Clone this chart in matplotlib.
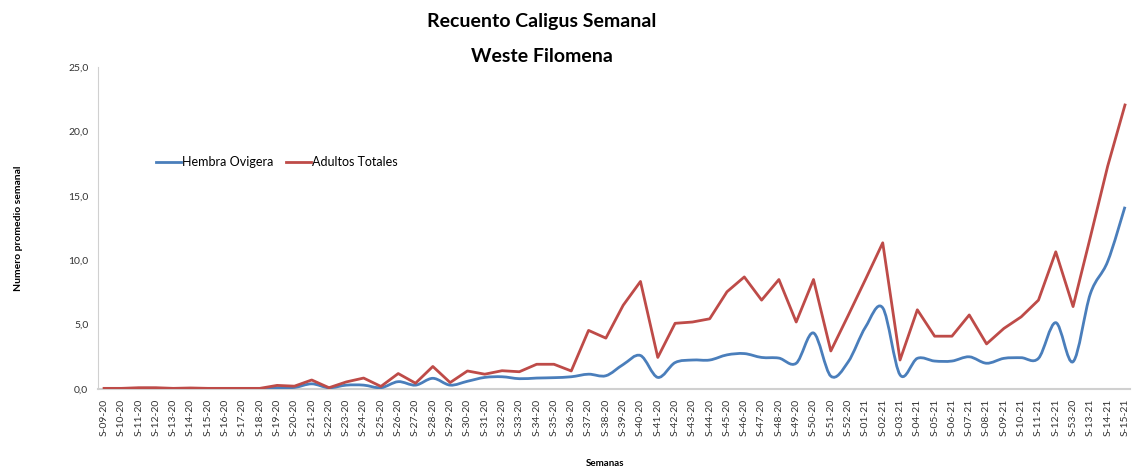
import numpy as np
import matplotlib.pyplot as plt
from matplotlib.path import Path
from matplotlib.patches import PathPatch
from matplotlib.lines import Line2D

plt.rcParams['font.family'] = ['Lato', 'DejaVu Sans']

semanas = ["S-09-20", "S-10-20", "S-11-20", "S-12-20", "S-13-20", "S-14-20", "S-15-20",
           "S-16-20", "S-17-20", "S-18-20", "S-19-20", "S-20-20", "S-21-20", "S-22-20",
           "S-23-20", "S-24-20", "S-25-20", "S-26-20", "S-27-20", "S-28-20", "S-29-20",
           "S-30-20", "S-31-20", "S-32-20", "S-33-20", "S-34-20", "S-35-20", "S-36-20",
           "S-37-20", "S-38-20", "S-39-20", "S-40-20", "S-41-20", "S-42-20", "S-43-20",
           "S-44-20", "S-45-20", "S-46-20", "S-47-20", "S-48-20", "S-49-20", "S-50-20",
           "S-51-20", "S-52-20", "S-01-21", "S-02-21", "S-03-21", "S-04-21", "S-05-21",
           "S-06-21", "S-07-21", "S-08-21", "S-09-21", "S-10-21", "S-11-21", "S-12-21",
           "S-53-20", "S-13-21", "S-14-21", "S-15-21"]

hembra_ovigera = [0.02, 0.02, 0.05, 0.05, 0.02, 0.03, 0.02, 0.02, 0.02, 0.02,
                  0.1, 0.12, 0.4, 0.1, 0.3, 0.3, 0.1, 0.57, 0.3, 0.83,
                  0.3, 0.6, 0.9, 0.95, 0.8, 0.85, 0.88, 0.95, 1.15, 1.03,
                  1.9, 2.6, 0.9, 2.05, 2.25, 2.25, 2.65, 2.75, 2.45, 2.4,
                  2.0, 4.35, 1.0, 2.1, 4.8, 6.3, 1.1, 2.38, 2.17, 2.17,
                  2.5, 2.0, 2.38, 2.43, 2.38, 5.15, 2.12, 7.4, 9.9, 14.15]

adultos_totales = [0.05, 0.05, 0.1, 0.1, 0.05, 0.08, 0.05, 0.05, 0.05, 0.05,
                   0.28, 0.22, 0.7, 0.1, 0.55, 0.85, 0.2, 1.2, 0.45, 1.75,
                   0.5, 1.4, 1.15, 1.42, 1.34, 1.92, 1.92, 1.4, 4.55, 3.95,
                   6.5, 8.35, 2.45, 5.1, 5.2, 5.45, 7.55, 8.7, 6.9, 8.5,
                   5.2, 8.5, 2.95, 5.7, 8.5, 11.35, 2.25, 6.15, 4.1, 4.1,
                   5.75, 3.5, 4.7, 5.6, 6.9, 10.65, 6.4, 11.8, 17.3, 22.05]

y_ticks = [0, 5, 10, 15, 20, 25]

azul = '#4a7ebb'
rojo = '#be4b48'


def curva_suave(xs, ys):
    # linea suavizada tipo Excel (Catmull-Rom -> Bezier)
    p = np.column_stack([xs, ys])
    verts = [p[0]]
    codes = [Path.MOVETO]
    n = len(p)
    for k in range(n - 1):
        p0 = p[k - 1] if k > 0 else p[k]
        p1 = p[k]
        p2 = p[k + 1]
        p3 = p[k + 2] if k + 2 < n else p[k + 1]
        verts += [p1 + (p2 - p0) / 6, p2 - (p3 - p1) / 6, p2]
        codes += [Path.CURVE4] * 3
    return Path(verts, codes)


fig = plt.figure(figsize=(11.33, 4.72), dpi=100)
ax = fig.add_axes([98 / 1133, 83 / 472, 1032 / 1133, 322 / 472])

x = np.arange(len(semanas))
ax.add_patch(PathPatch(curva_suave(x, hembra_ovigera), facecolor='none',
                       edgecolor=azul, lw=2.0, zorder=3))
ax.plot(x, adultos_totales, color=rojo, lw=2.0, zorder=4)

ax.set_xlim(-0.35, len(semanas) - 1 + 0.29)
ax.set_ylim(0, 25)

ax.set_xticks(x)
ax.set_xticklabels(semanas, rotation=90, fontsize=7.5, color='#333333')
ax.set_yticks(y_ticks)
ax.set_yticklabels([f"{v:.1f}".replace('.', ',') for v in y_ticks], fontsize=7.5, color='#333333')
ax.tick_params(axis='both', length=0, pad=7)

for s in ['top', 'right']:
    ax.spines[s].set_visible(False)
ax.spines['left'].set_color('#d0d0d0')
ax.spines['bottom'].set_color('#d0d0d0')
ax.spines['bottom'].set_linewidth(1.5)

ax.set_ylabel("Numero promedio semanal", fontsize=7.5, fontweight='bold')
ax.yaxis.set_label_coords(-0.073, 0.5)
fig.text(605 / 1133, 1 - 464 / 472, "Semanas", fontsize=7, fontweight='bold',
         ha='center', va='center')

fig.text(542 / 1133, 1 - 21 / 472, "Recuento Caligus Semanal", fontsize=14,
         fontweight='bold', ha='center', va='center')
fig.text(542 / 1133, 1 - 57 / 472, "Weste Filomena", fontsize=14,
         fontweight='bold', ha='center', va='center')

handles = [Line2D([], [], color=azul, lw=2.0), Line2D([], [], color=rojo, lw=2.0)]
ax.legend(handles, ["Hembra Ovigera", "Adultos Totales"], loc='center left',
          bbox_to_anchor=(0.045, 0.705), ncol=2, frameon=False, fontsize=9,
          handlelength=2.0, handletextpad=0.1, columnspacing=1.0)

fig.savefig("out.png", dpi=100)
